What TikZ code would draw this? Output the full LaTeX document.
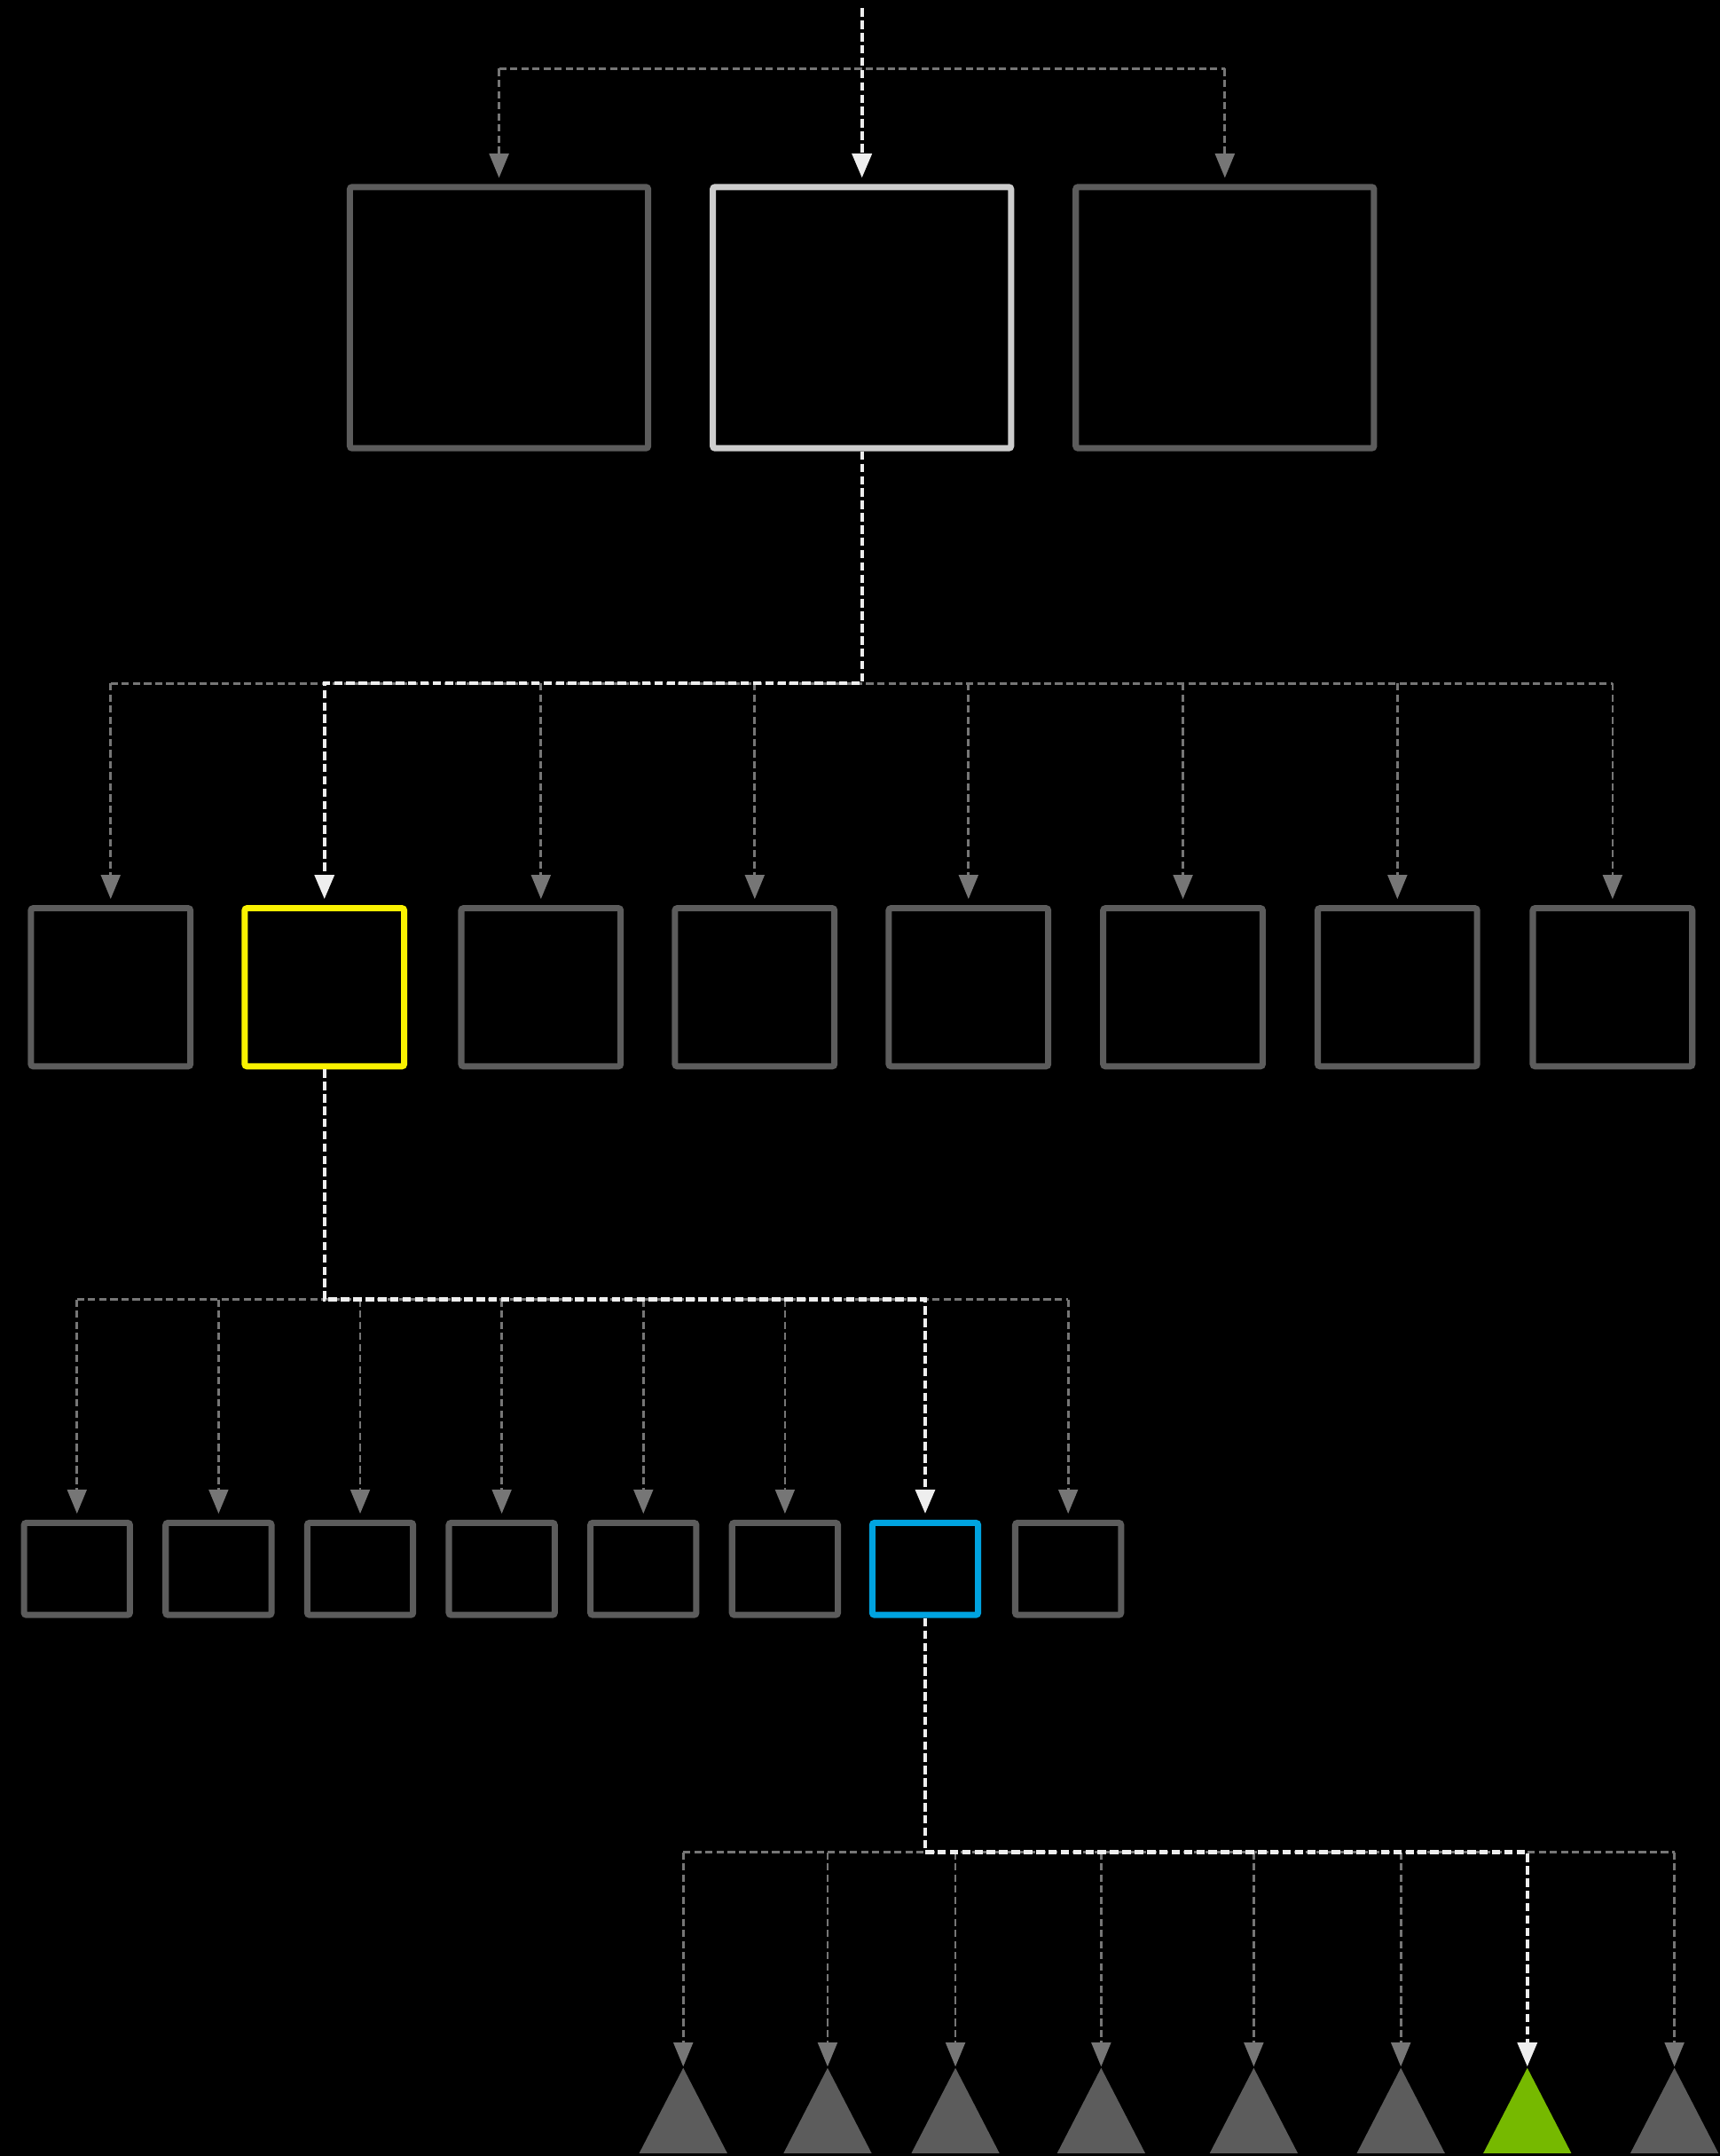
\documentclass[tikz,border=0pt]{standalone}
\definecolor{boxgray}{RGB}{92,92,92}
\definecolor{linkgray}{RGB}{118,118,118}
\definecolor{pathwhite}{RGB}{238,238,238}
\definecolor{selgray}{RGB}{205,205,205}
\definecolor{selyellow}{RGB}{250,242,0}
\definecolor{selblue}{RGB}{0,163,224}
\definecolor{leafgreen}{RGB}{118,185,0}
\usetikzlibrary{arrows.meta,positioning,shapes.geometric}

\begin{document}
\begin{tikzpicture}[x=0.02cm, y=-0.02cm,
    cell/.style={rectangle, draw=boxgray, line width=2.6pt, rounded corners=1pt,
                 inner sep=0pt},
    bigcell/.style={cell, minimum width=4.34cm, minimum height=3.80cm},
    midcell/.style={cell, minimum width=2.32cm, minimum height=2.30cm},
    smallcell/.style={cell, minimum width=1.54cm, minimum height=1.34cm},
    leaf/.style={isosceles triangle, shape border rotate=90, isosceles triangle stretches,
                 minimum width=1.28cm, minimum height=1.24cm, inner sep=0pt,
                 fill=boxgray, anchor=apex},
    link/.style={draw=linkgray, line width=1pt, dash pattern=on 3pt off 1.6pt},
    drop/.style={link, -{Triangle[width=8pt,length=10pt]}, shorten >=2.5pt},
    hot/.style={draw=pathwhite, line width=1.5pt, dash pattern=on 3.5pt off 1.6pt},
    hotdrop/.style={hot, -{Triangle[width=8pt,length=10pt]}, shorten >=2.5pt}
  ]
    \path[use as bounding box, fill=black] (0,0) rectangle (1251,1568);

    % Row 1: three big blocks
    \node[bigcell] (top1) at (363, 231) {};
    \node[bigcell, draw=selgray] (top2) at (627, 231) {};
    \node[bigcell] (top3) at (891, 231) {};

    % Row 2: eight blocks
    \node[midcell] (mid1) at (80.5, 718) {};
    \node[midcell, draw=selyellow] (mid2) at (236, 718) {};
    \node[midcell] (mid3) at (393.5, 718) {};
    \node[midcell] (mid4) at (549, 718) {};
    \node[midcell] (mid5) at (704.5, 718) {};
    \node[midcell] (mid6) at (860.5, 718) {};
    \node[midcell] (mid7) at (1016.5, 718) {};
    \node[midcell] (mid8) at (1173, 718) {};

    % Row 3: eight small blocks
    \node[smallcell] (low1) at (56, 1141) {};
    \node[smallcell] (low2) at (159, 1141) {};
    \node[smallcell] (low3) at (262, 1141) {};
    \node[smallcell] (low4) at (365, 1141) {};
    \node[smallcell] (low5) at (468, 1141) {};
    \node[smallcell] (low6) at (571, 1141) {};
    \node[smallcell, draw=selblue] (low7) at (673, 1141) {};
    \node[smallcell] (low8) at (777, 1141) {};

    % Row 4: leaves
    \node[leaf] (leaf1) at (497, 1503) {};
    \node[leaf] (leaf2) at (602, 1503) {};
    \node[leaf] (leaf3) at (695, 1503) {};
    \node[leaf] (leaf4) at (801, 1503) {};
    \node[leaf] (leaf5) at (912, 1503) {};
    \node[leaf] (leaf6) at (1019, 1503) {};
    \node[leaf, fill=leafgreen] (leaf7) at (1111, 1503) {};
    \node[leaf] (leaf8) at (1218, 1503) {};

    % junctions
    \coordinate (entry) at (627, 6);
    \coordinate (j1) at (627, 50);
    \coordinate (j2) at (627, 497);
    \coordinate (j3) at (236, 945);
    \coordinate (j4) at (673, 1347);

    % fan-out 1
    \draw[link] (top1.north |- j1) -- (top3.north |- j1);
    \draw[drop] (top1.north |- j1) -- (top1.north);
    \draw[drop] (top3.north |- j1) -- (top3.north);

    % fan-out 2
    \draw[link] (mid1.north |- j2) -- (mid8.north |- j2);
    \draw[drop] (mid1.north |- j2) -- (mid1.north);
    \draw[drop] (mid3.north |- j2) -- (mid3.north);
    \draw[drop] (mid4.north |- j2) -- (mid4.north);
    \draw[drop] (mid5.north |- j2) -- (mid5.north);
    \draw[drop] (mid6.north |- j2) -- (mid6.north);
    \draw[drop] (mid7.north |- j2) -- (mid7.north);
    \draw[drop] (mid8.north |- j2) -- (mid8.north);

    % fan-out 3
    \draw[link] (low1.north |- j3) -- (low8.north |- j3);
    \draw[drop] (low1.north |- j3) -- (low1.north);
    \draw[drop] (low2.north |- j3) -- (low2.north);
    \draw[drop] (low3.north |- j3) -- (low3.north);
    \draw[drop] (low4.north |- j3) -- (low4.north);
    \draw[drop] (low5.north |- j3) -- (low5.north);
    \draw[drop] (low6.north |- j3) -- (low6.north);
    \draw[drop] (low8.north |- j3) -- (low8.north);

    % fan-out 4
    \draw[link] (leaf1.apex |- j4) -- (leaf8.apex |- j4);
    \draw[drop, shorten >=0pt] (leaf1.apex |- j4) -- (leaf1.apex);
    \draw[drop, shorten >=0pt] (leaf2.apex |- j4) -- (leaf2.apex);
    \draw[drop, shorten >=0pt] (leaf3.apex |- j4) -- (leaf3.apex);
    \draw[drop, shorten >=0pt] (leaf4.apex |- j4) -- (leaf4.apex);
    \draw[drop, shorten >=0pt] (leaf5.apex |- j4) -- (leaf5.apex);
    \draw[drop, shorten >=0pt] (leaf6.apex |- j4) -- (leaf6.apex);
    \draw[drop, shorten >=0pt] (leaf8.apex |- j4) -- (leaf8.apex);

    % selected path
    \draw[hotdrop] (entry) -- (top2.north);
    \draw[hotdrop] (top2.south) -- (top2.south |- j2) -| (mid2.north);
    \draw[hotdrop] (mid2.south) -- (mid2.south |- j3) -| (low7.north);
    \draw[hotdrop, shorten >=0pt] (low7.south) -- (low7.south |- j4) -| (leaf7.apex);
  \end{tikzpicture}
\end{document}
